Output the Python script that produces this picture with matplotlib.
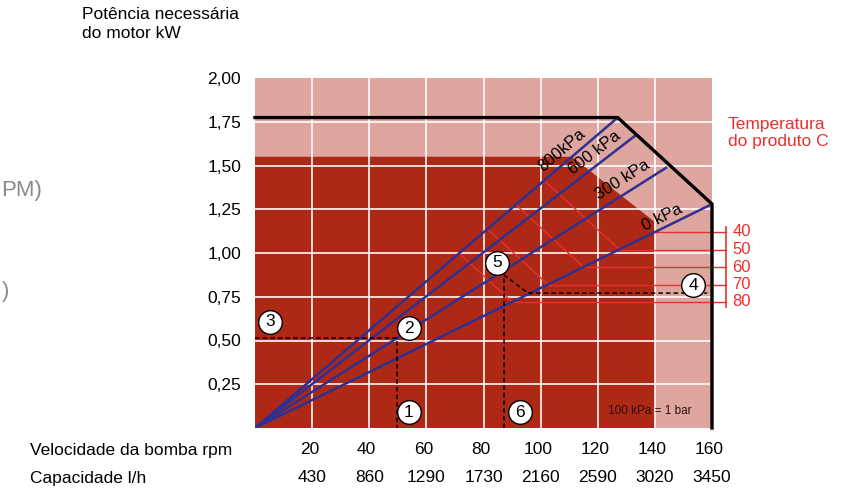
import numpy as np
import matplotlib.pyplot as plt

plt.rcParams['font.family'] = ['Liberation Sans', 'DejaVu Sans']

# dados
rpm_ticks = [20, 40, 60, 80, 100, 120, 140, 160]
cap_labels = ["430", "860", "1290", "1730", "2160", "2590", "3020", "3450"]
kw_ticks = [0.25, 0.50, 0.75, 1.00, 1.25, 1.50, 1.75, 2.00]

# linhas de pressão (da origem até o ponto final)
press_labels = ["800kPa", "600 kPa", "300 kPa", "0 kPa"]
press_end_x = [127, 133.4, 144.3, 159.3]
press_end_y = [1.774, 1.674, 1.491, 1.274]
press_lab_x = [107.5, 119.0, 128.5, 142.5]
press_lab_y = [1.589, 1.571, 1.417, 1.200]

# limite do motor (linha preta)
lim_x = [0, 127, 160, 160]
lim_y = [1.774, 1.774, 1.28, 0]

# área escura
dark_x = [0, 0, 111, 140, 140]
dark_y = [0, 1.55, 1.55, 1.177, 0]

# temperatura do produto
temps = ["40", "50", "60", "70", "80"]
temp_y = [1.12, 1.02, 0.92, 0.82, 0.72]
temp_diag = [False, True, True, True, True]
temp_slope = -0.015

# exemplos (linhas tracejadas e círculos)
ex1_x, ex1_y = 49.6, 0.516
ex2_x = [87.2, 87.2, 95.6, 158.3]
ex2_y = [0, 0.874, 0.771, 0.771]
circ_labels = ["1", "2", "3", "4", "5", "6"]
circ_x = [53.9, 53.9, 5.3, 153.4, 84.7, 92.8]
circ_y = [0.091, 0.571, 0.606, 0.817, 0.943, 0.091]

pink = "#dfa59f"
dark = "#ad2815"
blue = "#2e3192"
red = "#e8302e"

fig = plt.figure(figsize=(8.58, 4.93), dpi=100)
W, H = 858, 493
ax = fig.add_axes([255 / W, (H - 428) / H, 457 / W, 350 / H])
ax.set_xlim(0, 160)
ax.set_ylim(0, 2)
ax.set_facecolor(pink)
for s in ax.spines.values():
    s.set_visible(False)

ax.fill(dark_x, dark_y, color=dark, lw=0, zorder=1)

# grade branca
for x in rpm_ticks[:-1]:
    ax.axvline(x, color="white", lw=1.3, alpha=0.9, zorder=2)
for y in kw_ticks[:-1]:
    ax.axhline(y, color="white", lw=1.3, alpha=0.9, zorder=2)

ax.set_xticks([])
ax.set_yticks(kw_ticks)
ax.set_yticklabels([("%.2f" % v).replace(".", ",") for v in kw_ticks])
ax.tick_params(axis="y", length=0, pad=10, labelsize=12.5)

# escala px por unidade (para ângulo do texto)
px_x = 457 / 160
px_y = 350 / 2

s0 = press_end_y[3] / press_end_x[3]
s8 = press_end_y[0] / press_end_x[0]

# linhas vermelhas de temperatura
for t, y0, dg in zip(temps, temp_y, temp_diag):
    x0 = y0 / s0
    ax.plot([x0, 164.9], [y0, y0], color=red, lw=1.0, zorder=3, clip_on=False)
    if dg:
        xe = (y0 - temp_slope * x0) / (s8 - temp_slope)
        ax.plot([x0, xe], [y0, s8 * xe], color=red, lw=1.0, zorder=3)
    ax.text(167.2, y0, t, color=red, fontsize=12, va="center", ha="left")
ax.plot([164.9, 164.9], [0.691, 1.149], color=red, lw=1.2, clip_on=False)

fig.text(728 / W, 1 - 133 / H, "Temperatura\ndo produto C", color=red,
         fontsize=12.5, va="center", ha="left", linespacing=1.2)

# linhas de pressão
for lab, xe, ye, lx, ly in zip(press_labels, press_end_x, press_end_y, press_lab_x, press_lab_y):
    ax.plot([0, xe], [0, ye], color=blue, lw=1.8, zorder=4, solid_capstyle="butt")
    ang = np.degrees(np.arctan(ye / xe * px_y / px_x))
    ax.text(lx, ly, lab, rotation=ang, rotation_mode="anchor", fontsize=12,
            ha="center", va="center", zorder=6)

# limite do motor
ax.plot(lim_x, lim_y, color="black", lw=2.4, zorder=5, clip_on=False,
        solid_joinstyle="miter")

# tracejados
ax.plot([0, ex1_x, ex1_x], [ex1_y, ex1_y, 0], color="black", lw=1.1,
        ls=(0, (3, 2)), zorder=5)
ax.plot(ex2_x, ex2_y, color="black", lw=1.1, ls=(0, (3, 2)), zorder=5)

# círculos numerados
for c, cx, cy in zip(circ_labels, circ_x, circ_y):
    ax.plot(cx, cy, "o", ms=17, mfc="white", mec="black", mew=1.0, zorder=7,
            clip_on=False)
    ax.text(cx, cy, c, fontsize=12.5, ha="center", va="center", zorder=8)

ax.text(138.3, 0.10, "100 kPa = 1 bar", fontsize=8.5, ha="center", va="center",
        color="#2a1010", zorder=6)

# eixo x: duas linhas de rótulos
tr = ax.get_xaxis_transform()
for x, c in zip(rpm_ticks, cap_labels):
    ax.text(x - 1, -(450 - 428) / 350, str(x), transform=tr, fontsize=12.5,
            ha="center", va="center")
    ax.text(x, -(478 - 428) / 350, c, transform=tr, fontsize=12.5,
            ha="center", va="center")
fig.text(30 / W, 1 - 450 / H, "Velocidade da bomba rpm", fontsize=12.5,
         va="center", ha="left")
fig.text(30 / W, 1 - 478 / H, "Capacidade l/h", fontsize=12.5,
         va="center", ha="left")

fig.text(82 / W, 1 - 7 / H, "Potência necessária\ndo motor kW", fontsize=12.5,
         va="top", ha="left", linespacing=1.3)

# textos cortados à esquerda
fig.text(1 / W, 1 - 190 / H, "PM)", fontsize=16, color="#8a8a8a",
         ha="left", va="center")
fig.text(9 / W, 1 - 292 / H, ")", fontsize=16, color="#8a8a8a",
         ha="right", va="center")

fig.savefig("out.png", dpi=100)
